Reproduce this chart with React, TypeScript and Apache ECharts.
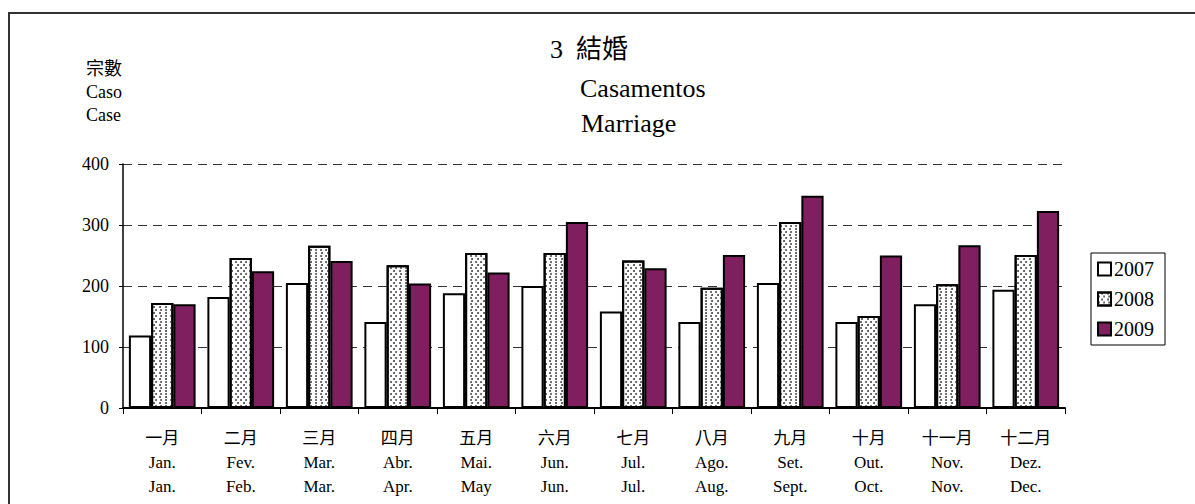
import React, { useEffect, useRef } from "react";
import * as echarts from "echarts";

const monthsCN = ["一月", "二月", "三月", "四月", "五月", "六月", "七月", "八月", "九月", "十月", "十一月", "十二月"];
const monthsPT = ["Jan.", "Fev.", "Mar.", "Abr.", "Mai.", "Jun.", "Jul.", "Ago.", "Set.", "Out.", "Nov.", "Dez."];
const monthsEN = ["Jan.", "Feb.", "Mar.", "Apr.", "May", "Jun.", "Jul.", "Aug.", "Sept.", "Oct.", "Nov.", "Dec."];

const years = ["2007", "2008", "2009"];
const values2007 = [119, 182, 205, 141, 188, 200, 158, 141, 205, 141, 170, 194];
const values2008 = [172, 246, 266, 234, 254, 254, 242, 197, 305, 151, 203, 251];
const values2009 = [170, 224, 241, 204, 222, 305, 229, 251, 348, 250, 267, 323];

const yTicks = [0, 100, 200, 300, 400];

const SERIF = "'Liberation Serif', 'Times New Roman', 'Noto Sans CJK TC', serif";

export default function App() {
  const ref = useRef<HTMLDivElement>(null);

  useEffect(() => {
    document.body.style.margin = "0";
    if (!ref.current) return;
    const chart = echarts.init(ref.current, null, { renderer: "svg" });
    const border = { borderColor: "#000", borderWidth: 2 };
    chart.setOption({
      animation: false,
      backgroundColor: "#fff",
      textStyle: { fontFamily: SERIF, color: "#000" },
      grid: { left: 123, right: 130, top: 164, bottom: 96, containLabel: false },
      legend: {
        orient: "vertical",
        left: 1091,
        top: 253,
        data: years,
        icon: "rect",
        itemWidth: 13,
        itemHeight: 13,
        itemGap: 10,
        padding: [6, 11, 6, 6],
        borderColor: "#000",
        borderWidth: 1,
        backgroundColor: "#fff",
        textStyle: { fontFamily: SERIF, fontSize: 20, color: "#000", padding: [0, 0, 0, -2] },
      },
      xAxis: {
        type: "category",
        data: monthsCN,
        axisLine: { lineStyle: { color: "#000", width: 2 } },
        axisTick: { show: true, length: 6, lineStyle: { color: "#000" } },
        axisLabel: {
          interval: 0,
          margin: 18,
          fontFamily: SERIF,
          fontSize: 17,
          lineHeight: 24,
          color: "#000",
          formatter: (_v: string, i: number) => `${monthsCN[i]}\n${monthsPT[i]}\n${monthsEN[i]}`,
        },
      },
      yAxis: {
        type: "value",
        min: yTicks[0],
        max: yTicks[yTicks.length - 1],
        interval: 100,
        axisLine: { show: true, lineStyle: { color: "#000", width: 1.5 } },
        axisTick: { show: true, length: 4, lineStyle: { color: "#000" } },
        axisLabel: { fontFamily: SERIF, fontSize: 18, color: "#000", margin: 14 },
        splitLine: { show: true, lineStyle: { color: "#333", type: [9, 6], width: 1 } },
      },
      series: [
        {
          name: years[0],
          type: "bar",
          data: values2007,
          barGap: "0%",
          barCategoryGap: "15%",
          itemStyle: { color: "#fff", ...border },
        },
        {
          name: years[1],
          type: "bar",
          data: values2008,
          barGap: "0%",
          barCategoryGap: "15%",
          itemStyle: {
            color: "#fff",
            ...border,
            decal: {
              symbol: "circle",
              symbolSize: 0.9,
              color: "#333",
              backgroundColor: "#fff",
              dashArrayX: [[2, 3], [0, 2.5, 2, 0.5]],
              dashArrayY: [2, 1],
              rotation: 0,
            },
          },
        },
        {
          name: years[2],
          type: "bar",
          data: values2009,
          barGap: "0%",
          barCategoryGap: "15%",
          itemStyle: { color: "#7F1F5F", ...border },
        },
      ],
      graphic: [
        {
          type: "rect",
          shape: { x: 9, y: 13, width: 1200, height: 520 },
          style: { fill: "none", stroke: "#333", lineWidth: 2 },
          silent: true,
        },
        {
          type: "text",
          x: 550,
          y: 49,
          style: { text: "3  結婚", font: `26px ${SERIF}`, fill: "#000", verticalAlign: "middle" },
        },
        {
          type: "text",
          x: 580,
          y: 88,
          style: { text: "Casamentos", font: `26px ${SERIF}`, fill: "#000", verticalAlign: "middle" },
        },
        {
          type: "text",
          x: 581,
          y: 123,
          style: { text: "Marriage", font: `26px ${SERIF}`, fill: "#000", verticalAlign: "middle" },
        },
        {
          type: "text",
          x: 86,
          y: 69,
          style: { text: "宗數", font: `18px ${SERIF}`, fill: "#000", verticalAlign: "middle" },
        },
        {
          type: "text",
          x: 86,
          y: 92,
          style: { text: "Caso", font: `18px ${SERIF}`, fill: "#000", verticalAlign: "middle" },
        },
        {
          type: "text",
          x: 86,
          y: 115,
          style: { text: "Case", font: `18px ${SERIF}`, fill: "#000", verticalAlign: "middle" },
        },
      ],
    });
    return () => chart.dispose();
  }, []);

  return <div ref={ref} style={{ width: 1195, height: 504 }} />;
}
